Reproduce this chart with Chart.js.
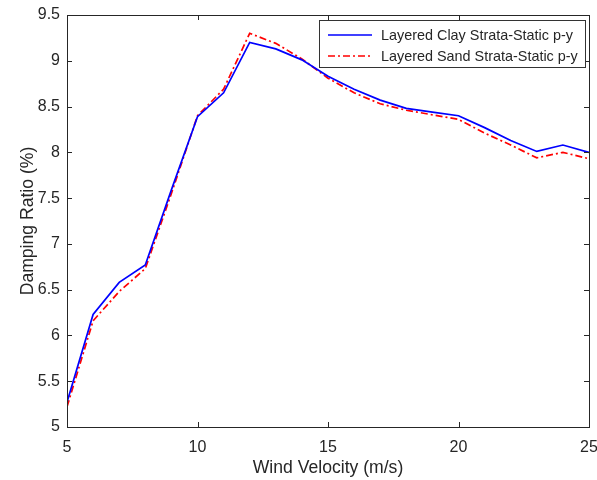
<!DOCTYPE html>
<html lang="en">
<head>
  <meta charset="UTF-8" />
  <title>Damping Ratio vs Wind Velocity</title>
  <script src="https://cdn.jsdelivr.net/npm/chart.js"></script>
  <style>
    body {
      margin: 0;
      background: white;
    }
    .wrap {
      width: 597px;
      height: 480px;
    }
  </style>
</head>
<body>
  <div class="wrap">
    <canvas id="dampingChart" width="597" height="480"></canvas>
  </div>

  <script>
    // values
    const windVelocity = [5, 6, 7, 8, 9, 10, 11, 12, 13, 14, 15, 16, 17, 18, 19, 20, 21, 22, 23, 24, 25];
    const clayDamping = [5.27, 6.23, 6.58, 6.77, 7.59, 8.39, 8.65, 9.20, 9.13, 9.01, 8.83, 8.69, 8.57, 8.48, 8.44, 8.40, 8.27, 8.13, 8.01, 8.08, 8.00];
    const sandDamping = [5.22, 6.16, 6.48, 6.73, 7.55, 8.40, 8.69, 9.30, 9.19, 9.02, 8.81, 8.65, 8.53, 8.46, 8.41, 8.36, 8.21, 8.08, 7.94, 8.00, 7.93];
    const xTicks = [5, 10, 15, 20, 25];
    const yTicks = [5, 5.5, 6, 6.5, 7, 7.5, 8, 8.5, 9, 9.5];

    const seriesLabels = ['Layered Clay Strata-Static p-y', 'Layered Sand Strata-Static p-y'];
    const axisColor = '#262626';
    const fontFamily = '"Liberation Sans", Arial, sans-serif';

    function toPoints(ys) {
      return windVelocity.map((x, i) => ({ x: x, y: ys[i] }));
    }

    // MATLAB style box with inward ticks on all four sides
    const boxAxes = {
      id: 'boxAxes',
      afterDraw(chart) {
        const { ctx, chartArea: a, scales } = chart;
        const len = 5;
        ctx.save();
        ctx.strokeStyle = axisColor;
        ctx.lineWidth = 1;
        ctx.strokeRect(Math.round(a.left) + 0.5, Math.round(a.top) + 0.5,
          Math.round(a.right - a.left), Math.round(a.bottom - a.top));
        ctx.beginPath();
        xTicks.forEach(v => {
          const px = Math.round(scales.x.getPixelForValue(v)) + 0.5;
          ctx.moveTo(px, a.bottom); ctx.lineTo(px, a.bottom - len);
          ctx.moveTo(px, a.top); ctx.lineTo(px, a.top + len);
        });
        yTicks.forEach(v => {
          const py = Math.round(scales.y.getPixelForValue(v)) + 0.5;
          ctx.moveTo(a.left, py); ctx.lineTo(a.left + len, py);
          ctx.moveTo(a.right, py); ctx.lineTo(a.right - len, py);
        });
        ctx.stroke();

        // legend box in the top right corner
        const bx = 319.5, by = 20.5, bw = 266, bh = 47;
        ctx.fillStyle = 'white';
        ctx.fillRect(bx, by, bw, bh);
        ctx.strokeStyle = '#333333';
        ctx.strokeRect(bx, by, bw, bh);
        ctx.font = '14.4px ' + fontFamily;
        ctx.textBaseline = 'middle';
        chart.data.datasets.forEach((ds, i) => {
          const y = 35 + i * 21;
          ctx.strokeStyle = ds.borderColor;
          ctx.lineWidth = ds.borderWidth;
          ctx.setLineDash(ds.borderDash || []);
          ctx.beginPath();
          ctx.moveTo(328, y); ctx.lineTo(372, y);
          ctx.stroke();
          ctx.setLineDash([]);
          ctx.fillStyle = axisColor;
          ctx.fillText(ds.label, 381, y + 1);
        });
        ctx.restore();
      }
    };

    const ctx = document.getElementById('dampingChart').getContext('2d');
    new Chart(ctx, {
      type: 'line',
      data: {
        datasets: [
          {
            label: seriesLabels[0],
            data: toPoints(clayDamping),
            borderColor: '#0000ff',
            borderWidth: 1.7,
            pointRadius: 0,
            fill: false,
            tension: 0
          },
          {
            label: seriesLabels[1],
            data: toPoints(sandDamping),
            borderColor: '#ff0000',
            borderWidth: 1.7,
            borderDash: [7, 3, 2, 3],
            pointRadius: 0,
            fill: false,
            tension: 0
          }
        ]
      },
      options: {
        responsive: false,
        animation: false,
        layout: { padding: { left: 0, right: 8, top: 15, bottom: 0 } },
        plugins: {
          legend: { display: false },
          tooltip: { enabled: false }
        },
        scales: {
          x: {
            type: 'linear',
            min: 5,
            max: 25,
            afterBuildTicks(scale) { scale.ticks = xTicks.map(v => ({ value: v })); },
            afterFit(scale) {
              scale.height = 53;
              scale.paddingLeft = 0;
              scale.paddingRight = 0;
            },
            grid: { display: false, drawTicks: false, tickLength: 0 },
            border: { display: false },
            ticks: {
              padding: 11,
              color: axisColor,
              font: { family: fontFamily, size: 16 },
              maxRotation: 0
            },
            title: {
              display: true,
              text: 'Wind Velocity (m/s)',
              color: axisColor,
              font: { family: fontFamily, size: 17.6 },
              padding: { top: 0, bottom: 1 }
            }
          },
          y: {
            type: 'linear',
            min: 5,
            max: 9.5,
            afterBuildTicks(scale) { scale.ticks = yTicks.map(v => ({ value: v })); },
            afterFit(scale) {
              scale.width = 67;
              scale.paddingTop = 0;
              scale.paddingBottom = 0;
            },
            grid: { display: false, drawTicks: false, tickLength: 0 },
            border: { display: false },
            ticks: {
              padding: 7,
              color: axisColor,
              font: { family: fontFamily, size: 16 },
              callback: v => String(v)
            },
            title: {
              display: true,
              text: 'Damping Ratio (%)',
              color: axisColor,
              font: { family: fontFamily, size: 17.6 },
              padding: { top: 18, bottom: 0 }
            }
          }
        }
      },
      plugins: [boxAxes]
    });
  </script>
</body>
</html>
